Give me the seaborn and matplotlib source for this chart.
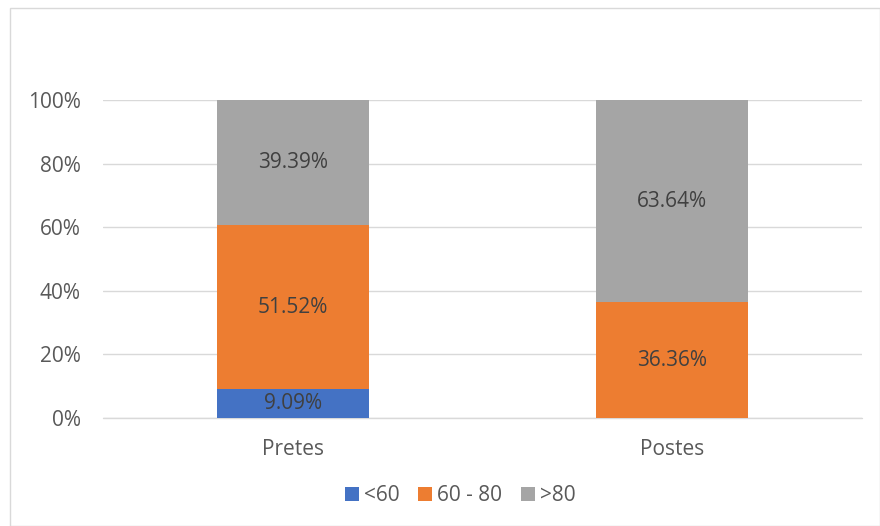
import pandas as pd
import matplotlib.pyplot as plt
import seaborn as sns
from matplotlib.patches import Rectangle, Patch

# data
groups = ['Pretes', 'Postes']
series = ['<60', '60 - 80', '>80']
v_lt60 = [9.09, 0.0]
v_60_80 = [51.52, 36.36]
v_gt80 = [39.39, 63.64]
colors = ['#4472C4', '#ED7D31', '#A5A5A5']

sns.set_style('white')
plt.rcParams['font.family'] = ['Open Sans', 'DejaVu Sans']

df = pd.DataFrame({'group': groups, '<60': v_lt60, '60 - 80': v_60_80, '>80': v_gt80})
df['c1'] = df['<60']
df['c2'] = df['c1'] + df['60 - 80']
df['c3'] = df['c2'] + df['>80']

fig = plt.figure(figsize=(8.8, 5.26), dpi=100)
ax = fig.add_axes([0.117, 0.2053, 0.8625, 0.6046])

# stacked: draw cumulative totals back to front
for col, c in zip(['c3', 'c2', 'c1'], colors[::-1]):
    sns.barplot(data=df, x='group', y=col, color=c, width=0.40, ax=ax,
                saturation=1, errorbar=None, zorder=3, linewidth=0)

fs = 15

# labels in middle of each segment
for i, g in enumerate(groups):
    bottom = 0
    for s in series:
        v = df.loc[i, s]
        if v > 0:
            ax.text(i, bottom + v / 2, f'{v:.2f}%', ha='center', va='center',
                    fontsize=fs, color='#404040', zorder=5)
        bottom += v

ax.set_ylim(0, 100)
ax.set_xlim(-0.5, 1.5)
ax.set_yticks([0, 20, 40, 60, 80, 100])
ax.set_yticklabels([f'{t}%' for t in [0, 20, 40, 60, 80, 100]])
ax.yaxis.grid(True, color='#D9D9D9', linewidth=1, zorder=0)
ax.axhline(0, color='#D9D9D9', linewidth=1, zorder=1, clip_on=False)
ax.set_axisbelow(True)
for sp in ax.spines.values():
    sp.set_visible(False)
ax.tick_params(axis='both', length=0, labelsize=fs, labelcolor='#595959')
ax.tick_params(axis='y', pad=16)
ax.tick_params(axis='x', pad=15)
ax.set_xlabel('')
ax.set_ylabel('')

handles = [Patch(facecolor=c, edgecolor='none') for c in colors]
fig.legend(handles, series, loc='center', bbox_to_anchor=(0.523, 0.058), ncol=3,
           frameon=False, fontsize=fs, labelcolor='#595959',
           handlelength=0.67, handleheight=0.67, handletextpad=0.25, columnspacing=0.9)

# chart border
fig.patches.append(Rectangle((0.011, 0.0), 0.989, 0.984, transform=fig.transFigure,
                             fill=False, edgecolor='#D9D9D9', linewidth=1))

plt.savefig('out.png', dpi=100)
